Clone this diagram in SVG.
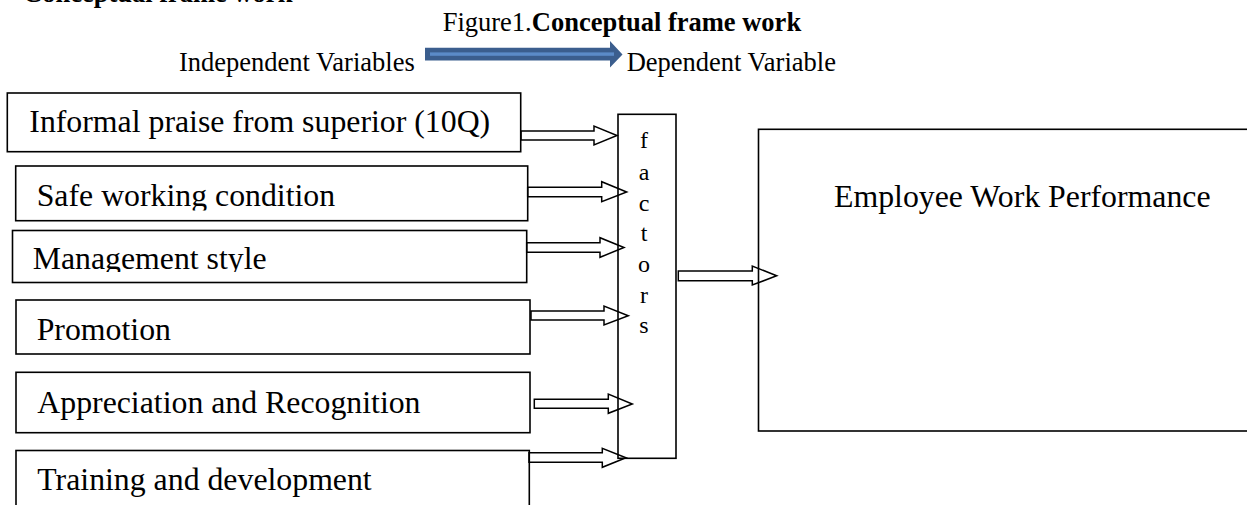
<svg xmlns="http://www.w3.org/2000/svg" width="1247" height="505" viewBox="0 0 1247 505">
<style>
  .t { font-family: "Liberation Serif", "Times New Roman", serif; fill: #000; }
  .lbl { font-size: 31.8px; }
  .hdr { font-size: 26.5px; }
  .fac { font-size: 24px; text-anchor: middle; }
  .box { fill: none; stroke: #000; stroke-width: 1.6; }
  .ba { fill: #fff; stroke: #000; stroke-width: 1.5; stroke-linejoin: miter; }
</style>
<defs>
  <clipPath id="clip2"><rect x="0" y="160" width="540" height="50.5"/></clipPath>
  <clipPath id="clip3"><rect x="0" y="225" width="540" height="47"/></clipPath>
</defs>
<rect width="1247" height="505" fill="#fff"/>

<g id="headers">
  <text class="t hdr" x="23" y="1.5" font-weight="bold">Conceptual frame work</text>
  <text class="t hdr" x="442.7" y="31">Figure1.<tspan font-weight="bold">Conceptual frame work</tspan></text>
  <text class="t hdr" x="179" y="70.5">Independent Variables</text>
  <text class="t hdr" x="626.7" y="70.5">Dependent Variable</text>
  <g id="legend-arrow">
    <polygon points="425,47.7 610,47.7 610,41 622.5,54.5 610,67.5 610,60.5 425,60.5" fill="#3B5E8E"/>
    <rect x="430" y="52.4" width="184" height="3.4" fill="#5B8BC8"/>
  </g>
</g>

<g id="connectors">
  <polygon class="ba" points="521,131 594,131 594,126 617,135.5 594,145 594,140 521,140"/>
  <polygon class="ba" points="527.7,187.3 601.7,187.3 601.7,181.7 626.7,192 601.7,201.7 601.7,196.7 527.7,196.7"/>
  <polygon class="ba" points="526.7,242.7 600,242.7 600,237.7 624,247.5 600,257.3 600,252.3 526.7,252.3"/>
  <polygon class="ba" points="531,311 604,311 604,306 628.3,315.7 604,325 604,320 531,320"/>
  <polygon class="ba" points="534.3,399.3 608.3,399.3 608.3,394 632.3,404 608.3,413.3 608.3,408.3 534.3,408.3"/>
  <polygon class="ba" points="529,452.7 602.3,452.7 602.3,448.3 626,457.8 602.3,467.3 602.3,462.3 529,462.3"/>
  <polygon class="ba" points="678.3,271 752.3,271 752.3,266 776.7,275.8 752.3,285 752.3,280.7 678.3,280.7"/>
</g>

<g id="node-informal">
  <rect class="box" x="7.3" y="93" width="513.4" height="58.7"/>
  <text class="t lbl" x="29.3" y="131.7">Informal praise from superior (10Q)</text>
</g>
<g id="node-safe">
  <rect class="box" x="15.7" y="166" width="512" height="54.7"/>
  <text class="t lbl" x="36.7" y="206" clip-path="url(#clip2)">Safe working condition</text>
</g>
<g id="node-management">
  <rect class="box" x="12.5" y="230.5" width="514.2" height="52"/>
  <text class="t lbl" x="32.7" y="269.3" clip-path="url(#clip3)">Management style</text>
</g>
<g id="node-promotion">
  <rect class="box" x="16" y="300" width="514" height="54"/>
  <text class="t lbl" x="36.7" y="340">Promotion</text>
</g>
<g id="node-appreciation">
  <rect class="box" x="16" y="372.3" width="514" height="60.4"/>
  <text class="t lbl" x="37.3" y="412.7">Appreciation and Recognition</text>
</g>
<g id="node-training">
  <rect class="box" x="16" y="450.5" width="513.3" height="70"/>
  <text class="t lbl" x="37.3" y="490">Training and development</text>
</g>

<g id="node-factors">
  <rect class="box" x="618" y="114.3" width="58" height="344"/>
  <text class="t fac" x="644" y="148">f</text>
  <text class="t fac" x="644" y="179.5">a</text>
  <text class="t fac" x="644" y="210.5">c</text>
  <text class="t fac" x="644" y="241">t</text>
  <text class="t fac" x="644" y="272">o</text>
  <text class="t fac" x="644" y="303.3">r</text>
  <text class="t fac" x="644" y="333.3">s</text>
</g>

<g id="node-performance">
  <rect class="box" x="758.5" y="129.3" width="500" height="301.7"/>
  <text class="t lbl" x="834" y="206.7">Employee Work Performance</text>
</g>
</svg>
